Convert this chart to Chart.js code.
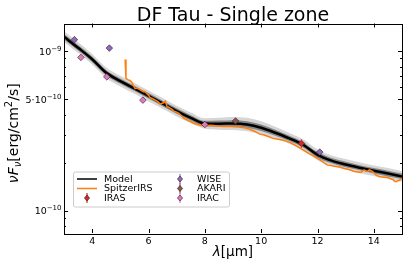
<!DOCTYPE html>
<html>
<head>
<meta charset="utf-8">
<script src="https://cdn.jsdelivr.net/npm/chart.js@4"></script>
<style>
  html, body { margin: 0; padding: 0; background: #fff; }
  #wrap { width: 407px; height: 267px; }
</style>
</head>
<body>
<div id="wrap"><canvas id="sed" width="407" height="267"></canvas></div>
<script>
// wavelengths in micron, fluxes in erg/cm2/s
const modelWave = [3, 3.5, 4, 4.5, 5, 5.5, 6, 6.5, 7, 7.5, 8, 8.5, 9, 9.5, 10, 10.5, 11, 11.5, 12, 12.5, 13, 13.5, 14, 14.5, 15];
const modelFlux = [1.23e-9, 1.05e-9, 8.9e-10, 7.31e-10, 6.49e-10, 5.84e-10, 5.25e-10, 4.70e-10, 4.21e-10, 3.82e-10, 3.52e-10, 3.51e-10, 3.52e-10, 3.47e-10, 3.31e-10, 3.08e-10, 2.84e-10, 2.58e-10, 2.24e-10, 2.06e-10, 1.95e-10, 1.86e-10, 1.78e-10, 1.71e-10, 1.64e-10];
const bandOuterHi = [1.33e-9, 1.135e-9, 9.61e-10, 7.90e-10, 7.01e-10, 6.31e-10, 5.67e-10, 5.08e-10, 4.55e-10, 4.13e-10, 3.80e-10, 3.83e-10, 3.87e-10, 3.82e-10, 3.64e-10, 3.36e-10, 3.07e-10, 2.79e-10, 2.42e-10, 2.22e-10, 2.11e-10, 2.01e-10, 1.92e-10, 1.85e-10, 1.77e-10];
const bandOuterLo = [1.14e-9, 9.72e-10, 8.24e-10, 6.77e-10, 6.01e-10, 5.41e-10, 4.86e-10, 4.35e-10, 3.90e-10, 3.54e-10, 3.26e-10, 3.22e-10, 3.20e-10, 3.15e-10, 3.01e-10, 2.83e-10, 2.63e-10, 2.39e-10, 2.07e-10, 1.91e-10, 1.81e-10, 1.72e-10, 1.65e-10, 1.58e-10, 1.52e-10];
const bandInnerHi = [1.28e-9, 1.092e-9, 9.26e-10, 7.60e-10, 6.75e-10, 6.07e-10, 5.46e-10, 4.89e-10, 4.38e-10, 3.97e-10, 3.66e-10, 3.67e-10, 3.69e-10, 3.64e-10, 3.47e-10, 3.22e-10, 2.95e-10, 2.68e-10, 2.33e-10, 2.14e-10, 2.03e-10, 1.93e-10, 1.85e-10, 1.78e-10, 1.71e-10];
const bandInnerLo = [1.18e-9, 1.01e-9, 8.56e-10, 7.03e-10, 6.24e-10, 5.62e-10, 5.05e-10, 4.52e-10, 4.05e-10, 3.67e-10, 3.38e-10, 3.36e-10, 3.36e-10, 3.31e-10, 3.16e-10, 2.95e-10, 2.73e-10, 2.48e-10, 2.15e-10, 1.98e-10, 1.87e-10, 1.79e-10, 1.71e-10, 1.64e-10, 1.58e-10];

const irsWave = [5.17, 5.20, 5.28, 5.34, 5.40, 5.46, 5.52, 5.58, 5.64, 5.72, 5.82, 5.88, 5.94, 6.00, 6.06, 6.14, 6.24, 6.32, 6.42, 6.48, 6.54, 6.60, 6.66, 6.72, 6.78, 6.84, 6.90, 6.98, 7.08, 7.16, 7.26, 7.38, 7.50, 7.62, 7.74, 7.88, 8.03, 8.18, 8.32, 8.50, 8.68, 8.86, 9.04, 9.20, 9.40, 9.60, 9.76, 9.95, 10.10, 10.25, 10.42, 10.60, 10.75, 10.90, 11.05, 11.20, 11.32, 11.45, 11.58, 11.70, 11.82, 11.94, 12.06, 12.18, 12.27, 12.36, 12.48, 12.60, 12.78, 12.95, 13.12, 13.31, 13.45, 13.55, 13.62, 13.67, 13.72, 13.76, 13.84, 13.90, 13.96, 14.08, 14.18, 14.25, 14.38, 14.49, 14.58, 14.67, 14.74, 14.79, 14.85, 14.91, 14.97, 15.03];
const irsFlux = [8.87e-10, 6.75e-10, 6.60e-10, 6.55e-10, 6.42e-10, 6.10e-10, 5.84e-10, 5.86e-10, 5.80e-10, 5.70e-10, 5.56e-10, 5.58e-10, 5.40e-10, 5.30e-10, 5.10e-10, 5.05e-10, 4.93e-10, 4.84e-10, 4.66e-10, 4.72e-10, 4.75e-10, 4.86e-10, 4.48e-10, 4.45e-10, 4.38e-10, 4.32e-10, 4.21e-10, 4.16e-10, 4.07e-10, 3.95e-10, 3.79e-10, 3.70e-10, 3.61e-10, 3.52e-10, 3.47e-10, 3.42e-10, 3.40e-10, 3.43e-10, 3.42e-10, 3.38e-10, 3.37e-10, 3.38e-10, 3.36e-10, 3.35e-10, 3.31e-10, 3.24e-10, 3.15e-10, 3.02e-10, 2.98e-10, 2.92e-10, 2.84e-10, 2.80e-10, 2.77e-10, 2.73e-10, 2.66e-10, 2.58e-10, 2.50e-10, 2.42e-10, 2.35e-10, 2.28e-10, 2.22e-10, 2.16e-10, 2.10e-10, 2.03e-10, 1.97e-10, 1.93e-10, 1.92e-10, 1.90e-10, 1.88e-10, 1.84e-10, 1.81e-10, 1.76e-10, 1.75e-10, 1.74e-10, 1.79e-10, 1.80e-10, 1.77e-10, 1.76e-10, 1.80e-10, 1.78e-10, 1.76e-10, 1.67e-10, 1.64e-10, 1.63e-10, 1.62e-10, 1.62e-10, 1.59e-10, 1.57e-10, 1.53e-10, 1.52e-10, 1.54e-10, 1.55e-10, 1.58e-10, 1.60e-10];

const irasWave = [11.43];
const irasFlux = [2.64e-10];
const irasErr = [1.6e-11];
const wiseWave = [3.37, 4.61, 12.08];
const wiseFlux = [1.18e-9, 1.045e-9, 2.33e-10];
const wiseErr = [2e-11, 1.5e-11, 4e-12];
const akariWave = [9.09];
const akariFlux = [3.65e-10];
const akariErr = [6e-12];
const iracWave = [3.6, 4.52, 5.8, 8.0];
const iracFlux = [9.13e-10, 6.9e-10, 4.93e-10, 3.47e-10];
const iracErr = [1.5e-11, 1e-11, 7e-12, 5e-12];

const xTickVals = [4, 6, 8, 10, 12, 14];
const yMajorVals = [1e-10, 5e-10, 1e-9];
// mantissa part and exponent part of each major label
const yTickBase = ['10', '5\u00B710', '10'];
const yTickExp = ['\u221210', '\u221210', '\u22129'];
const yMinorVals = [8e-11, 9e-11, 2e-10, 3e-10, 4e-10, 6e-10, 7e-10, 8e-10, 9e-10];

const FONT = "'DejaVu Sans', sans-serif";

function pts(xs, ys) {
  return xs.map((x, i) => ({ x: x, y: ys[i] }));
}

function photo(label, xs, ys, errs, color) {
  return {
    label: label,
    data: pts(xs, ys),
    yErr: errs,
    showLine: false,
    pointStyle: 'rectRot',
    pointRadius: 3.3,
    pointBackgroundColor: color,
    pointBorderColor: '#222',
    pointBorderWidth: 0.6,
    borderColor: color,
    backgroundColor: color,
    order: 0
  };
}

function band(data, color, fill, order) {
  return {
    label: '',
    data: data,
    borderWidth: 0,
    pointRadius: 0,
    borderColor: 'rgba(0,0,0,0)',
    backgroundColor: color,
    fill: fill,
    cubicInterpolationMode: 'monotone',
    order: order
  };
}

// error bars, axes frame with inward ticks, title, axis labels, legend
const decor = {
  id: 'decor',
  afterDatasetsDraw(chart) {
    const ctx = chart.ctx;
    const xs = chart.scales.x, ys = chart.scales.y;
    ctx.save();
    chart.data.datasets.forEach(ds => {
      if (!ds.yErr) return;
      ctx.strokeStyle = ds.borderColor;
      ctx.lineWidth = 1.2;
      ds.data.forEach((p, i) => {
        const px = xs.getPixelForValue(p.x);
        ctx.beginPath();
        ctx.moveTo(px, ys.getPixelForValue(p.y - ds.yErr[i]));
        ctx.lineTo(px, ys.getPixelForValue(p.y + ds.yErr[i]));
        ctx.stroke();
      });
    });
    ctx.restore();
  },
  afterDraw(chart) {
    const ctx = chart.ctx;
    const a = chart.chartArea;
    const xs = chart.scales.x, ys = chart.scales.y;
    ctx.save();
    ctx.strokeStyle = '#000';
    ctx.lineWidth = 1;
    ctx.strokeRect(Math.round(a.left) + 0.5, Math.round(a.top) + 0.5, Math.round(a.right - a.left), Math.round(a.bottom - a.top));

    ctx.beginPath();
    xTickVals.forEach(v => {
      const px = Math.round(xs.getPixelForValue(v)) + 0.5;
      ctx.moveTo(px, a.bottom); ctx.lineTo(px, a.bottom - 4);
      ctx.moveTo(px, a.top); ctx.lineTo(px, a.top + 4);
    });
    yMajorVals.forEach(v => {
      const py = Math.round(ys.getPixelForValue(v)) + 0.5;
      ctx.moveTo(a.left, py); ctx.lineTo(a.left + 4, py);
      ctx.moveTo(a.right, py); ctx.lineTo(a.right - 4, py);
    });
    yMinorVals.forEach(v => {
      const py = Math.round(ys.getPixelForValue(v)) + 0.5;
      ctx.moveTo(a.left, py); ctx.lineTo(a.left + 2, py);
      ctx.moveTo(a.right, py); ctx.lineTo(a.right - 2, py);
    });
    ctx.stroke();

    // y tick labels with raised exponents
    ctx.fillStyle = '#000';
    ctx.textBaseline = 'alphabetic';
    ctx.textAlign = 'left';
    yMajorVals.forEach((v, i) => {
      const py = ys.getPixelForValue(v);
      ctx.font = '7px ' + FONT;
      const we = ctx.measureText(yTickExp[i]).width;
      ctx.font = '9.5px ' + FONT;
      const wb = ctx.measureText(yTickBase[i]).width;
      const x1 = a.left - 2.5 - we - wb;
      ctx.fillText(yTickBase[i], x1, py + 3.5);
      ctx.font = '7px ' + FONT;
      ctx.fillText(yTickExp[i], x1 + wb, py - 0.5);
    });

    // title
    ctx.textAlign = 'center';
    ctx.font = '19px ' + FONT;
    ctx.fillText('DF Tau - Single zone', (a.left + a.right) / 2, 20.5);

    // x label
    const lam = '\u03BB';
    ctx.font = '13.5px ' + FONT;
    const rest = '[\u03BCm]';
    const wRest = ctx.measureText(rest).width;
    ctx.font = 'italic 13.5px ' + FONT;
    const wLam = ctx.measureText(lam).width;
    let x0 = (a.left + a.right) / 2 - (wLam + wRest) / 2;
    ctx.textAlign = 'left';
    ctx.fillText(lam, x0, 256);
    ctx.font = '13.5px ' + FONT;
    ctx.fillText(rest, x0 + wLam, 256);

    // y label
    const parts = [
      { t: '\u03BDF', f: 'italic 14px ', dy: 0 },
      { t: '\u03BD', f: 'italic 10px ', dy: 3 },
      { t: '[erg/cm', f: '14px ', dy: 0 },
      { t: '2', f: '10px ', dy: -6 },
      { t: '/s]', f: '14px ', dy: 0 }
    ];
    let total = 0;
    parts.forEach(p => { ctx.font = p.f + FONT; p.w = ctx.measureText(p.t).width; total += p.w; });
    ctx.translate(18, (a.top + a.bottom) / 2 + 5);
    ctx.rotate(-Math.PI / 2);
    let cx = -total / 2;
    parts.forEach(p => {
      ctx.font = p.f + FONT;
      ctx.fillText(p.t, cx, p.dy);
      cx += p.w;
    });
    ctx.restore();

    // legend
    ctx.save();
    const bx = 73, by = 171.5, bw = 156, bh = 35;
    ctx.fillStyle = 'rgba(255,255,255,0.8)';
    ctx.strokeStyle = '#cccccc';
    ctx.lineWidth = 1;
    ctx.beginPath();
    ctx.roundRect(bx + 0.5, by + 0.5, bw, bh, 2);
    ctx.fill();
    ctx.stroke();
    const rows = [179, 188.5, 198];
    const ds = chart.data.datasets;
    const left = ds.filter(d => d.legendCol === 1);
    const right = ds.filter(d => d.legendCol === 2);
    ctx.font = '9.5px ' + FONT;
    ctx.textBaseline = 'middle';
    ctx.textAlign = 'left';
    const drawItem = (d, hx, tx, ry) => {
      if (d.yErr) {
        ctx.strokeStyle = d.borderColor;
        ctx.lineWidth = 1.2;
        ctx.beginPath();
        ctx.moveTo(hx, ry - 5); ctx.lineTo(hx, ry + 5);
        ctx.stroke();
        ctx.fillStyle = d.pointBackgroundColor;
        ctx.strokeStyle = '#222';
        ctx.lineWidth = 0.6;
        ctx.beginPath();
        ctx.moveTo(hx, ry - 3); ctx.lineTo(hx + 2.6, ry); ctx.lineTo(hx, ry + 3); ctx.lineTo(hx - 2.6, ry);
        ctx.closePath();
        ctx.fill(); ctx.stroke();
      } else {
        ctx.strokeStyle = d.borderColor;
        ctx.lineWidth = 1.5;
        ctx.beginPath();
        ctx.moveTo(hx - 10, ry); ctx.lineTo(hx + 10, ry);
        ctx.stroke();
      }
      ctx.fillStyle = '#000';
      ctx.fillText(d.label, tx, ry + 0.5);
    };
    left.forEach((d, i) => drawItem(d, 87, 104, rows[i]));
    right.forEach((d, i) => drawItem(d, 180, 197, rows[i]));
    ctx.restore();
  }
};

const iras = photo('IRAS', irasWave, irasFlux, irasErr, '#d62728');
iras.legendCol = 1;
const wise = photo('WISE', wiseWave, wiseFlux, wiseErr, '#9467bd');
wise.legendCol = 2;
const akari = photo('AKARI', akariWave, akariFlux, akariErr, '#8c564b');
akari.legendCol = 2;
const irac = photo('IRAC', iracWave, iracFlux, iracErr, '#e377c2');
irac.legendCol = 2;

new Chart(document.getElementById('sed').getContext('2d'), {
  type: 'line',
  data: {
    datasets: [
      band(pts(modelWave, bandOuterHi), '#d6d6d6', '+1', 5),
      band(pts(modelWave, bandOuterLo), '#d6d6d6', false, 5),
      band(pts(modelWave, bandInnerHi), '#858585', '+1', 4),
      band(pts(modelWave, bandInnerLo), '#858585', false, 4),
      {
        label: 'Model',
        legendCol: 1,
        data: pts(modelWave, modelFlux),
        borderColor: '#000',
        borderWidth: 2.5,
        pointRadius: 0,
        cubicInterpolationMode: 'monotone',
        order: 3
      },
      {
        label: 'SpitzerIRS',
        legendCol: 1,
        data: pts(irsWave, irsFlux),
        borderColor: '#ff7f0e',
        borderWidth: 1.5,
        pointRadius: 0,
        tension: 0,
        order: 2
      },
      iras, wise, akari, irac
    ]
  },
  options: {
    responsive: false,
    animation: false,
    devicePixelRatio: 1,
    layout: { padding: { left: 0, right: 5, top: 23.5, bottom: 0 } },
    plugins: {
      legend: { display: false },
      title: { display: false },
      tooltip: { enabled: false }
    },
    scales: {
      x: {
        type: 'linear',
        min: 3,
        max: 15,
        afterBuildTicks: s => { s.ticks = xTickVals.map(v => ({ value: v })); },
        afterFit: s => { s.height = 34; },
        grid: { display: false, drawTicks: false },
        border: { display: false },
        ticks: { color: '#000', font: { family: FONT, size: 9.5 }, padding: 3, maxRotation: 0 }
      },
      y: {
        type: 'logarithmic',
        min: 7.25e-11,
        max: 1.49e-9,
        afterFit: s => { s.width = 64; },
        grid: { display: false, drawTicks: false },
        border: { display: false },
        ticks: { display: false }
      }
    }
  },
  plugins: [decor]
});
</script>
</body>
</html>
